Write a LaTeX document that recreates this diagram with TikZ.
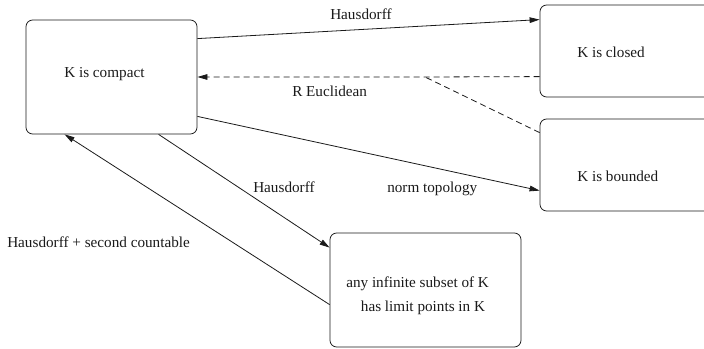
\documentclass[tikz,border=0pt]{standalone}
\usepackage{fontspec}
\setmainfont{Liberation Serif}
\usepackage{tikz}
\usetikzlibrary{calc,arrows.meta,positioning}
\definecolor{inkx}{HTML}{1A1A1A}
\tikzset{
  ar/.style={-{Triangle[length=7.5pt,width=4.2pt]},line width=0.6pt,inkx},
  dashar/.style={ar,dash pattern=on 4.5pt off 3pt},
  dashln/.style={line width=0.6pt,inkx,dash pattern=on 4.5pt off 3pt},
  box/.style={draw=inkx,line width=0.6pt,rounded corners=5pt,inner sep=0pt},
  txt/.style={font=\fontsize{11.4}{18}\selectfont,inner sep=0pt,text=inkx}
}
\begin{document}
\begin{tikzpicture}[x=0.75pt,y=-0.75pt]
\useasboundingbox (0,0) rectangle (704,349);
\clip (0,0) rectangle (704,349);
\node[box,minimum width=171*0.75pt,minimum height=114*0.75pt] (compact) at (111.5,77) {};
\node[box,minimum width=180*0.75pt,minimum height=92*0.75pt] (closed) at (630,51) {};
\node[box,minimum width=180*0.75pt,minimum height=92*0.75pt] (bounded) at (630,165) {};
\node[box,minimum width=191*0.75pt,minimum height=114*0.75pt] (limit) at (425.5,290) {};
\node[txt,anchor=base west] (compacttxt) at (64,78) {K is compact};
\node[txt,anchor=base west] (closedtxt) at (577,58) {K is closed};
\node[txt,anchor=base west] (boundedtxt) at (577,182) {K is bounded};
\node[txt,anchor=west,align=left] (limittxt) at (346,296) {any infinite subset of K\\\hspace*{11pt}has limit points in K};
\coordinate (join) at (425,77);
\draw[ar] ($(compact.north east)+(0,19)$) -- ($(closed.north west)+(0,15)$);
\draw[dashar] ($(closed.north west)+(0,72)$) -- (join) -- (compact.east);
\draw[dashln] ($(bounded.north west)+(0,14)$) -- (join);
\draw[ar] ($(compact.south east)+(0,-18)$) -- ($(bounded.north west)+(0,72)$);
\draw[ar] ($(compact.south west)+(133,0)$) -- ($(limit.north west)+(0,15)$);
\draw[ar] ($(limit.north west)+(0,72)$) -- ($(compact.south west)+(39,0)$);
\node[txt,anchor=base west] (haustop) at (330,20) {Hausdorff};
\node[txt,anchor=base west] (euclid) at (292,97) {R Euclidean};
\node[txt,anchor=base west] (normtop) at (387,193) {norm topology};
\node[txt,anchor=base west] (hausmid) at (253,193) {Hausdorff};
\node[txt,anchor=base west] (haussec) at (7,248) {Hausdorff + second countable};
\end{tikzpicture}
\end{document}
